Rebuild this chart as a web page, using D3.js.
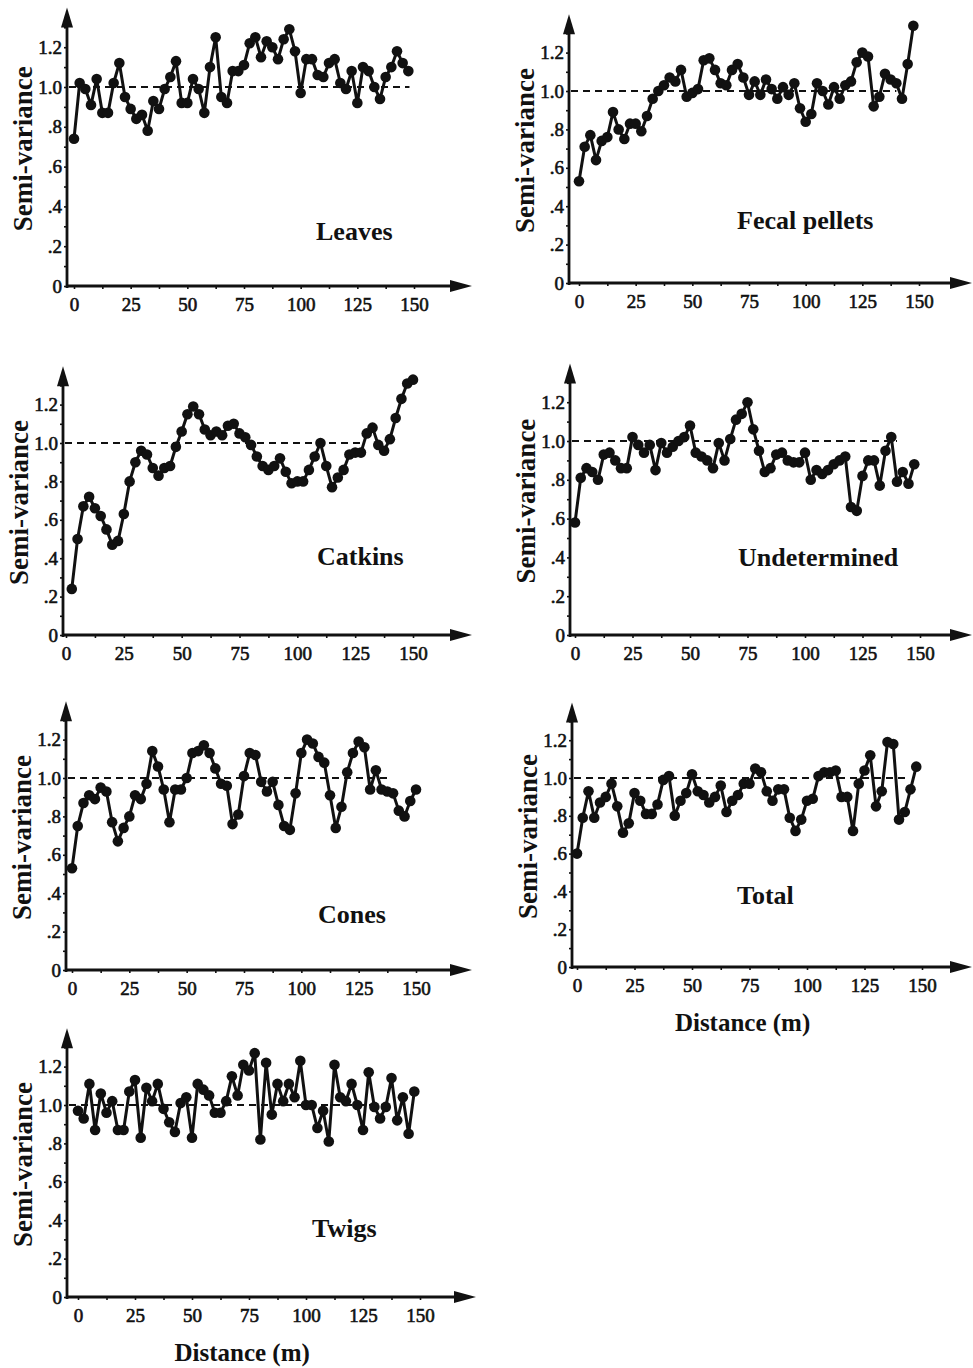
<!DOCTYPE html>
<html>
<head>
<meta charset="utf-8">
<script src="https://cdn.jsdelivr.net/npm/d3@7"></script>
<style>
  body { margin: 0; background: #fff; }
  svg { display: block; }
  text { font-family: "Liberation Serif", "Times New Roman", serif; fill: #111; }
</style>
</head>
<body>
<div id="visual"></div>
<script>
/* Semi-variograms for seven litter categories */

// lag distances (m)
var lags = [0, 2.5, 5, 7.5, 10, 12.5, 15, 17.5, 20, 22.5, 25, 27.5, 30, 32.5, 35, 37.5, 40, 42.5, 45, 47.5,
    50, 52.5, 55, 57.5, 60, 62.5, 65, 67.5, 70, 72.5, 75, 77.5, 80, 82.5, 85, 87.5, 90, 92.5, 95, 97.5,
    100, 102.5, 105, 107.5, 110, 112.5, 115, 117.5, 120, 122.5, 125, 127.5, 130, 132.5, 135, 137.5, 140, 142.5, 145, 147.5, 150];

var xTicks = [0, 25, 50, 75, 100, 125, 150];
var xMinorTicks = [12.5, 37.5, 62.5, 87.5, 112.5, 137.5];
var yTicks = [0, 0.2, 0.4, 0.6, 0.8, 1.0, 1.2];
var yTickLabels = ["0", ".2", ".4", ".6", ".8", "1.0", "1.2"];
var yMinorTicks = [0.1, 0.3, 0.5, 0.7, 0.9, 1.1, 1.3];

var panelNames = ["Leaves", "Fecal pellets", "Catkins", "Undetermined", "Cones", "Total", "Twigs"];

var leaves = [0.74, 1.02, 0.99, 0.91, 1.04, 0.87, 0.87, 1.02, 1.12, 0.95, 0.89, 0.84, 0.86, 0.78, 0.93,
    0.89, 0.99, 1.05, 1.13, 0.92, 0.92, 1.04, 0.99, 0.87, 1.10, 1.25, 0.95, 0.92, 1.08, 1.08,
    1.11, 1.22, 1.25, 1.15, 1.23, 1.20, 1.14, 1.24, 1.29, 1.18, 0.97, 1.14, 1.14, 1.06, 1.05,
    1.12, 1.14, 1.02, 0.99, 1.08, 0.92, 1.10, 1.08, 1.00, 0.94, 1.05, 1.10, 1.18, 1.12, 1.08];

var fecalPellets = [0.53, 0.71, 0.77, 0.64, 0.74, 0.76, 0.89, 0.80, 0.75, 0.83, 0.83, 0.79, 0.87, 0.96, 1.00,
    1.03, 1.07, 1.05, 1.11, 0.97, 0.99, 1.01, 1.16, 1.17, 1.11, 1.04, 1.03, 1.11, 1.14, 1.07,
    0.98, 1.05, 0.98, 1.06, 1.01, 0.96, 1.02, 0.98, 1.04, 0.91, 0.84, 0.88, 1.04, 1.00, 0.93,
    1.02, 0.96, 1.03, 1.05, 1.15, 1.20, 1.18, 0.92, 0.97, 1.09, 1.06, 1.04, 0.96, 1.14, 1.34];

var catkins = [0.24, 0.50, 0.67, 0.72, 0.66, 0.62, 0.55, 0.47, 0.49, 0.63, 0.80, 0.90, 0.96, 0.94, 0.87,
    0.83, 0.87, 0.88, 0.98, 1.06, 1.15, 1.19, 1.15, 1.07, 1.04, 1.06, 1.04, 1.09, 1.10, 1.05,
    1.03, 0.99, 0.93, 0.88, 0.86, 0.88, 0.92, 0.85, 0.79, 0.80, 0.80, 0.86, 0.93, 1.00, 0.88,
    0.77, 0.82, 0.86, 0.94, 0.95, 0.95, 1.05, 1.08, 0.99, 0.96, 1.02, 1.13, 1.23, 1.31, 1.33];

var undetermined = [0.58, 0.81, 0.86, 0.84, 0.80, 0.93, 0.94, 0.90, 0.86, 0.86, 1.02, 0.98, 0.94, 0.98, 0.85,
    0.99, 0.94, 0.97, 1.00, 1.02, 1.08, 0.94, 0.92, 0.90, 0.86, 0.99, 0.90, 1.01, 1.11, 1.14,
    1.20, 1.06, 0.95, 0.84, 0.86, 0.93, 0.94, 0.90, 0.89, 0.89, 0.94, 0.80, 0.85, 0.83, 0.85,
    0.88, 0.90, 0.92, 0.66, 0.64, 0.82, 0.90, 0.90, 0.77, 0.95, 1.02, 0.79, 0.84, 0.78, 0.88];

var cones = [0.53, 0.75, 0.87, 0.91, 0.89, 0.95, 0.93, 0.77, 0.67, 0.74, 0.80, 0.91, 0.89, 0.97, 1.14,
    1.06, 0.94, 0.77, 0.94, 0.94, 1.00, 1.13, 1.14, 1.17, 1.13, 1.05, 0.97, 0.96, 0.76, 0.81,
    1.01, 1.13, 1.12, 0.98, 0.93, 0.98, 0.86, 0.75, 0.73, 0.92, 1.13, 1.20, 1.18, 1.11, 1.08,
    0.91, 0.74, 0.85, 1.03, 1.13, 1.19, 1.16, 0.94, 1.04, 0.94, 0.93, 0.92, 0.83, 0.80, 0.88, 0.94];

var total = [0.60, 0.79, 0.93, 0.79, 0.87, 0.90, 0.97, 0.85, 0.71, 0.76, 0.92, 0.88, 0.81, 0.81, 0.86,
    0.99, 1.01, 0.80, 0.88, 0.92, 1.02, 0.93, 0.91, 0.87, 0.90, 0.96, 0.82, 0.88, 0.91, 0.97,
    0.97, 1.05, 1.03, 0.93, 0.88, 0.94, 0.94, 0.79, 0.72, 0.78, 0.88, 0.89, 1.01, 1.03, 1.03,
    1.04, 0.90, 0.90, 0.72, 0.97, 1.04, 1.12, 0.85, 0.93, 1.19, 1.18, 0.78, 0.82, 0.94, 1.06];

var twigs = [0.97, 0.93, 1.11, 0.87, 1.06, 0.96, 1.02, 0.87, 0.87, 1.07, 1.13, 0.83, 1.09, 1.02, 1.11,
    0.98, 0.91, 0.86, 1.01, 1.04, 0.83, 1.11, 1.08, 1.05, 0.96, 0.96, 1.02, 1.15, 1.05, 1.21,
    1.18, 1.27, 0.82, 1.22, 0.95, 1.11, 1.02, 1.11, 1.04, 1.23, 1.00, 1.00, 0.88, 0.97, 0.81,
    1.21, 1.04, 1.02, 1.11, 1.00, 0.87, 1.17, 0.99, 0.93, 0.99, 1.14, 0.92, 1.04, 0.85, 1.07];

var seriesList = [leaves, fecalPellets, catkins, undetermined, cones, total, twigs];

// page layout of each panel (pixels)
var layout = [
    { axisX: 67,  x0: 74,  x150: 414, zeroY: 286,  oneY: 87,  lagStart: 0,   dashEnd: 148, arrowX: 472, titleX: 316, titleY: 240,  distance: false },
    { axisX: 569, x0: 579, x150: 919, zeroY: 283,  oneY: 91,  lagStart: 0,   dashEnd: 140, arrowX: 972, titleX: 737, titleY: 229,  distance: false },
    { axisX: 63,  x0: 66,  x150: 413, zeroY: 635,  oneY: 443, lagStart: 2.5, dashEnd: 128, arrowX: 472, titleX: 317, titleY: 565,  distance: false },
    { axisX: 570, x0: 575, x150: 920, zeroY: 635,  oneY: 441, lagStart: 0,   dashEnd: 140, arrowX: 972, titleX: 738, titleY: 566,  distance: false },
    { axisX: 66,  x0: 72,  x150: 416, zeroY: 970,  oneY: 778, lagStart: 0,   dashEnd: 139, arrowX: 472, titleX: 318, titleY: 923,  distance: false },
    { axisX: 572, x0: 577, x150: 922, zeroY: 967,  oneY: 778, lagStart: 0,   dashEnd: 143, arrowX: 972, titleX: 737, titleY: 904,  distance: true },
    { axisX: 67,  x0: 78,  x150: 420, zeroY: 1297, oneY: 1105, lagStart: 0,  dashEnd: 135, arrowX: 476, titleX: 312, titleY: 1237, distance: true }
];

var ink = "#111";

function drawPanel(svg, p, values, name) {

    var x = d3.scaleLinear().domain([0, 150]).range([p.x0, p.x150]);
    var y = d3.scaleLinear().domain([0, 1]).range([p.zeroY, p.oneY]);

    var g = svg.append("g");

    // y axis ticks + labels
    var yAxis = d3.axisLeft(y)
        .tickValues(yTicks)
        .tickFormat(function (d, i) { return yTickLabels[i]; })
        .tickSize(3)
        .tickPadding(2);
    var ya = g.append("g").attr("transform", "translate(" + p.axisX + ",0)").call(yAxis);
    ya.select(".domain").remove();

    var yMinor = d3.axisLeft(y).tickValues(yMinorTicks).tickFormat("").tickSize(3);
    var ym = g.append("g").attr("transform", "translate(" + p.axisX + ",0)").call(yMinor);
    ym.select(".domain").remove();

    // x axis ticks + labels
    var xAxis = d3.axisBottom(x)
        .tickValues(xTicks)
        .tickFormat(d3.format("d"))
        .tickSize(3)
        .tickPadding(9);
    var xa = g.append("g").attr("transform", "translate(0," + p.zeroY + ")").call(xAxis);
    xa.select(".domain").remove();

    var xMinor = d3.axisBottom(x).tickValues(xMinorTicks).tickFormat("").tickSize(3);
    var xm = g.append("g").attr("transform", "translate(0," + p.zeroY + ")").call(xMinor);
    xm.select(".domain").remove();

    g.selectAll(".tick line").attr("stroke", ink).attr("stroke-width", 1.6);
    g.selectAll(".tick text")
        .attr("font-family", "'Liberation Serif', 'Times New Roman', serif")
        .attr("font-size", "19px")
        .attr("fill", ink)
        .attr("stroke", ink)
        .attr("stroke-width", 0.6);

    // axis lines with arrow heads
    var topY = y(1.4);
    g.append("line")
        .attr("x1", p.axisX).attr("y1", p.zeroY + 2)
        .attr("x2", p.axisX).attr("y2", topY + 14)
        .attr("stroke", ink).attr("stroke-width", 2.8);
    g.append("path")
        .attr("d", "M" + p.axisX + "," + topY + "L" + (p.axisX - 6) + "," + (topY + 20) + "L" + (p.axisX + 6) + "," + (topY + 20) + "Z")
        .attr("fill", ink);

    g.append("line")
        .attr("x1", p.axisX - 1).attr("y1", p.zeroY)
        .attr("x2", p.arrowX - 16).attr("y2", p.zeroY)
        .attr("stroke", ink).attr("stroke-width", 2.8);
    g.append("path")
        .attr("d", "M" + p.arrowX + "," + p.zeroY + "L" + (p.arrowX - 22) + "," + (p.zeroY - 6) + "L" + (p.arrowX - 22) + "," + (p.zeroY + 6) + "Z")
        .attr("fill", ink);

    // reference line at sill = 1.0
    g.append("line")
        .attr("x1", p.axisX + 2).attr("y1", y(1))
        .attr("x2", x(p.dashEnd)).attr("y2", y(1))
        .attr("stroke", ink)
        .attr("stroke-width", 2.2)
        .attr("stroke-dasharray", "7,5");

    // semi-variance series
    var pts = values.map(function (v, i) {
        return { lag: lags[i] + p.lagStart, v: v };
    });

    var line = d3.line()
        .x(function (d) { return x(d.lag); })
        .y(function (d) { return y(d.v); });

    g.append("path")
        .datum(pts)
        .attr("d", line)
        .attr("fill", "none")
        .attr("stroke", ink)
        .attr("stroke-width", 3)
        .attr("stroke-linejoin", "round");

    g.selectAll("circle.pt")
        .data(pts)
        .enter()
        .append("circle")
        .attr("class", "pt")
        .attr("cx", function (d) { return x(d.lag); })
        .attr("cy", function (d) { return y(d.v); })
        .attr("r", 5.3)
        .attr("fill", ink);

    // labels
    g.append("text")
        .attr("x", p.titleX)
        .attr("y", p.titleY)
        .attr("font-size", "26px")
        .attr("font-weight", "bold")
        .text(name);

    g.append("text")
        .attr("transform", "translate(" + (p.axisX - 35) + "," + y(0.69) + ") rotate(-90)")
        .attr("text-anchor", "middle")
        .attr("font-size", "27px")
        .attr("font-weight", "bold")
        .text("Semi-variance");

    if (p.distance) {
        g.append("text")
            .attr("x", x(72))
            .attr("y", p.zeroY + 64)
            .attr("text-anchor", "middle")
            .attr("font-size", "25px")
            .attr("font-weight", "bold")
            .text("Distance (m)");
    }
}

function init() {
    var w = 973, h = 1368;
    var svg = d3.select("#visual").append("svg").attr("width", w).attr("height", h);
    svg.append("rect").attr("width", w).attr("height", h).attr("fill", "#fff");

    for (var i = 0; i < layout.length; i++) {
        drawPanel(svg, layout[i], seriesList[i], panelNames[i]);
    }
}

init();
</script>
</body>
</html>
